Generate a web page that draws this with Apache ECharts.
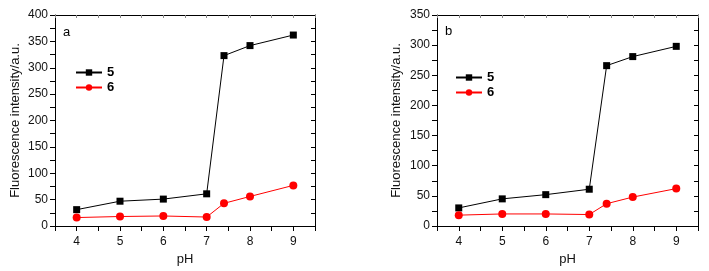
<!DOCTYPE html>
<html><head><meta charset="utf-8">
<script src="https://cdn.jsdelivr.net/npm/echarts@6/dist/echarts.min.js"></script>
<style>html,body{margin:0;padding:0;background:#fff}#c{width:709px;height:271px}</style>
</head><body><div id="c"></div>
<script>
const pH = [4, 5, 6, 7, 7.4, 8, 9];
const a5 = [31, 47, 51, 61, 323, 342, 362];
const a6 = [16, 18, 19, 17, 43, 56, 77];
const b5 = [30, 45, 52, 61, 266, 281, 298];
const b6 = [18, 20, 20, 19, 37, 48, 62];
const xTicks = [4, 5, 6, 7, 8, 9];

const chart = echarts.init(document.getElementById('c'));
const font = 'Liberation Sans, Arial, sans-serif';
const txt = '#111';
function pairs(xs, ys){ return xs.map((x,i)=>[x, ys[i]]); }
function mainX(gi, gap){
  return {gridIndex: gi, type:'value', min:3.5, max:9.5, interval:0.5,
    name:'pH', nameLocation:'middle', nameGap:gap,
    nameTextStyle:{fontFamily:font, fontSize:13, color:txt},
    axisLine:{onZero:false, lineStyle:{color:'#000', width:1}},
    axisTick:{show:true, length:5, inside:false, lineStyle:{color:'#000'}},
    axisLabel:{fontFamily:font, fontSize:12, color:txt, margin:10,
      formatter: v => xTicks.includes(v) ? String(v) : ''},
    splitLine:{show:false}};
}
function topX(gi){
  return {gridIndex: gi, type:'value', position:'top', min:3.5, max:9.5, interval:0.5,
    axisLine:{show:true, onZero:false, lineStyle:{color:'#000', width:1}},
    axisTick:{show:true, inside:true, length:3, lineStyle:{color:'#888'}},
    axisLabel:{show:false}, splitLine:{show:false}};
}
function mainY(gi, max, gap){
  return {gridIndex: gi, type:'value', min:0, max:max, interval:25,
    name:'Fluorescence intensity/a.u.', nameLocation:'middle', nameGap:gap,
    nameTextStyle:{fontFamily:font, fontSize:13, color:txt},
    axisLine:{show:true, onZero:false, lineStyle:{color:'#000', width:1}},
    axisTick:{show:true, length:5, inside:false, lineStyle:{color:'#000'}},
    axisLabel:{fontFamily:font, fontSize:12, color:txt, margin:7,
      formatter: v => (v % 50 === 0) ? String(v) : ''},
    splitLine:{show:false}};
}
function rightY(gi, max){
  return {gridIndex: gi, type:'value', position:'right', min:0, max:max, interval:25,
    axisLine:{show:true, onZero:false, lineStyle:{color:'#000', width:1}},
    axisTick:{show:true, inside:true, length:4, lineStyle:{color:'#000'}},
    axisLabel:{show:false}, splitLine:{show:false}};
}
function ser(name, data, xi, yi, color, sym){
  return {name:name, type:'line', xAxisIndex:xi, yAxisIndex:yi, data:data,
    symbol:sym, symbolSize: sym==='rect' ? 7 : 8,
    lineStyle:{color:color, width:1}, itemStyle:{color:color}, animation:false};
}
const legendBase = {orient:'vertical', itemWidth:26, itemHeight:8, itemGap:2,
  padding:[0,5,0,5],
  textStyle:{fontFamily:font, fontSize:13, fontWeight:'bold', color:'#000'},
  data:['5','6'], selectedMode:false};

chart.setOption({
  animation:false,
  grid:[
    {left:55, top:15, width:260, height:211},
    {left:437, top:15, width:261, height:211}
  ],
  xAxis:[mainX(0,24), mainX(1,21), topX(0), topX(1)],
  yAxis:[mainY(0,400,33), mainY(1,350,34), rightY(0,400), rightY(1,350)],
  legend:[
    Object.assign({left:70, top:66}, legendBase),
    Object.assign({left:450, top:71}, legendBase)
  ],
  graphic:[
    {type:'text', left:63, top:26, style:{text:'a', font:'13px '+font, fill:'#000'}},
    {type:'text', left:445, top:25, style:{text:'b', font:'13px '+font, fill:'#000'}}
  ],
  series:[
    ser('5', pairs(pH,a5), 0, 0, '#000', 'rect'),
    ser('6', pairs(pH,a6), 0, 0, '#ff0000', 'circle'),
    ser('5', pairs(pH,b5), 1, 1, '#000', 'rect'),
    ser('6', pairs(pH,b6), 1, 1, '#ff0000', 'circle')
  ]
});
</script></body></html>
